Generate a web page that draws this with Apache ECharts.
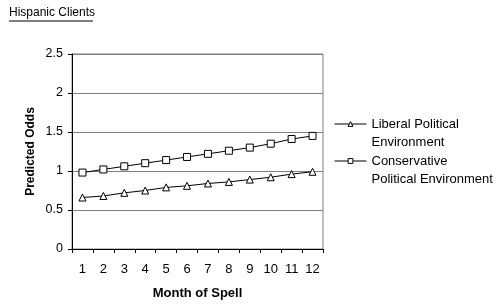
<!DOCTYPE html>
<html>
<head>
<meta charset="utf-8">
<script src="https://cdn.jsdelivr.net/npm/echarts@6/dist/echarts.min.js"></script>
<style>
	html, body { margin: 0; padding: 0; background: #fff; }
	#chart { width: 502px; height: 306px; }
</style>
</head>
<body>
<div id="chart"></div>
<script>
// 图表数据
var months = ["1", "2", "3", "4", "5", "6", "7", "8", "9", "10", "11", "12"];
var liberal = [0.66, 0.68, 0.72, 0.75, 0.79, 0.81, 0.84, 0.86, 0.89, 0.92, 0.96, 0.99];
var conservative = [0.98, 1.02, 1.06, 1.10, 1.14, 1.18, 1.22, 1.26, 1.30, 1.35, 1.41, 1.45];
var seriesNames = ["Liberal Political\nEnvironment", "Conservative\nPolitical Environment"];

var FONT = "Arial, 'Liberation Sans', sans-serif";

// 图例配置（每个图例单独定位；前加空行，使文字首行与图标对齐）
function make_legend(name, top) {
	return {
		data: [name],
		left: 334,
		top: top,
		itemWidth: 32,
		itemHeight: 6,
		itemGap: 0,
		padding: 0,
		formatter: n => " \n" + n,
		lineStyle: { width: 1, color: "#000" },
		itemStyle: { color: "#fff", borderColor: "#000", borderWidth: 1 },
		textStyle: {
			fontFamily: FONT,
			fontSize: 13,
			color: "#000",
			lineHeight: 18
		}
	};
}

var option = {
	animation: false,
	backgroundColor: "#fff",
	graphic: [
		{
			type: "text",
			left: 9,
			top: 7,
			style: {
				text: "Hispanic Clients",
				fontFamily: FONT,
				fontSize: 12,
				fill: "#000"
			}
		},
		{
			type: "line",
			shape: { x1: 9, y1: 21, x2: 93, y2: 21 },
			style: { stroke: "#000", lineWidth: 1 }
		}
	],
	grid: {
		left: 72,
		right: 179,
		top: 54,
		bottom: 57,
		show: true,
		borderColor: "#808080",
		borderWidth: 1
	},
	legend: [
		make_legend(seriesNames[0], 97),
		make_legend(seriesNames[1], 134)
	],
	xAxis: {
		type: "category",
		data: months,
		boundaryGap: true,
		name: "Month of Spell",
		nameLocation: "middle",
		nameGap: 38,
		nameTextStyle: {
			fontFamily: FONT,
			fontSize: 13,
			fontWeight: "bold",
			color: "#000"
		},
		axisLine: { lineStyle: { color: "#000" } },
		axisTick: { show: true, length: 4, lineStyle: { color: "#000" } },
		axisLabel: {
			fontFamily: FONT,
			fontSize: 13,
			color: "#000",
			margin: 14,
			interval: 0
		}
	},
	yAxis: {
		type: "value",
		min: 0,
		max: 2.5,
		interval: 0.5,
		name: "Predicted Odds",
		nameLocation: "middle",
		nameGap: 35,
		nameTextStyle: {
			fontFamily: FONT,
			fontSize: 12,
			fontWeight: "bold",
			color: "#000"
		},
		axisLine: { show: true, lineStyle: { color: "#000" } },
		axisTick: { show: true, length: 4, lineStyle: { color: "#000" } },
		axisLabel: {
			fontFamily: FONT,
			fontSize: 12.5,
			color: "#000",
			margin: 9
		},
		splitLine: { lineStyle: { color: "#808080", width: 1 } }
	},
	series: [
		{
			name: seriesNames[0],
			type: "line",
			data: liberal,
			symbol: "triangle",
			symbolSize: 7,
			showAllSymbol: true,
			lineStyle: { color: "#000", width: 1 },
			itemStyle: { color: "#fff", borderColor: "#000", borderWidth: 1 }
		},
		{
			name: seriesNames[1],
			type: "line",
			data: conservative,
			symbol: "rect",
			symbolSize: 7,
			showAllSymbol: true,
			lineStyle: { color: "#000", width: 1 },
			itemStyle: { color: "#fff", borderColor: "#000", borderWidth: 1 }
		}
	]
};

var chart = echarts.init(document.getElementById("chart"));
chart.setOption(option);
window.addEventListener("resize", chart.resize);
</script>
</body>
</html>
